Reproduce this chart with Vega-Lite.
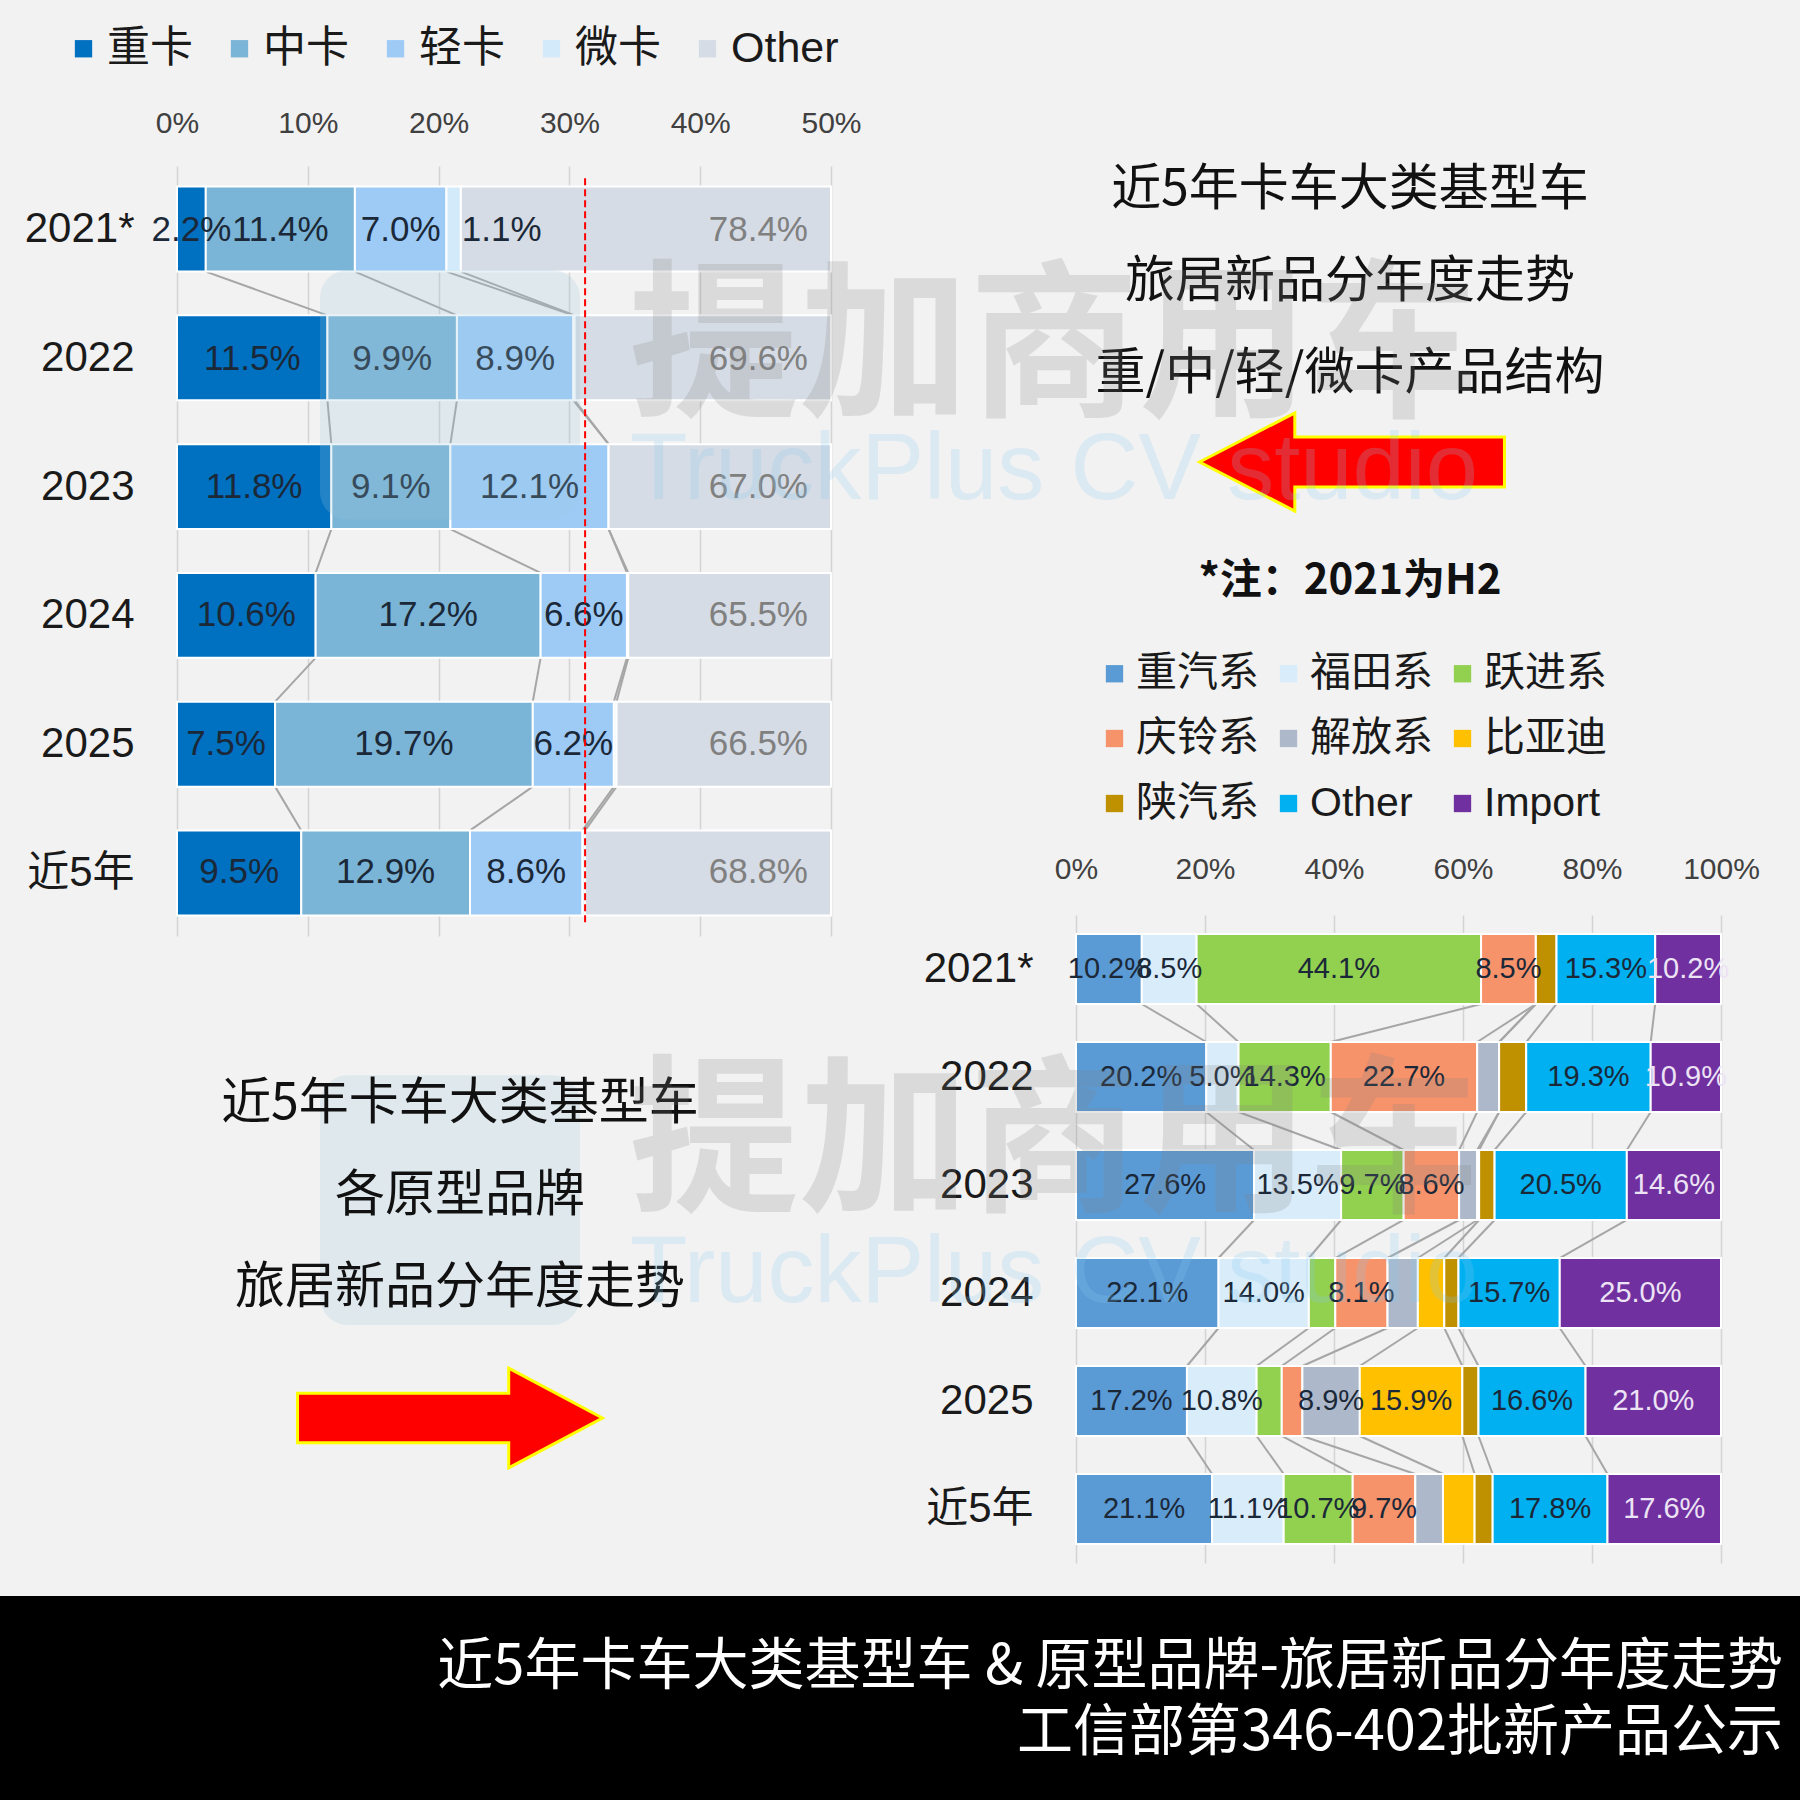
{
  "$schema": "https://vega.github.io/schema/vega-lite/v6.json",
  "width": 1800,
  "height": 1800,
  "autosize": {"type": "none"},
  "padding": 0,
  "background": "#f2f2f2",
  "config": {"view": {"stroke": null}},
  "datasets": {
    "truck": [
      {"year": "2021*", "type": "重卡", "value": 0.022},
      {"year": "2021*", "type": "中卡", "value": 0.114},
      {"year": "2021*", "type": "轻卡", "value": 0.070},
      {"year": "2021*", "type": "微卡", "value": 0.011},
      {"year": "2021*", "type": "Other", "value": 0.784},
      {"year": "2022", "type": "重卡", "value": 0.115},
      {"year": "2022", "type": "中卡", "value": 0.099},
      {"year": "2022", "type": "轻卡", "value": 0.089},
      {"year": "2022", "type": "微卡", "value": 0.001},
      {"year": "2022", "type": "Other", "value": 0.696},
      {"year": "2023", "type": "重卡", "value": 0.118},
      {"year": "2023", "type": "中卡", "value": 0.091},
      {"year": "2023", "type": "轻卡", "value": 0.121},
      {"year": "2023", "type": "微卡", "value": 0.000},
      {"year": "2023", "type": "Other", "value": 0.670},
      {"year": "2024", "type": "重卡", "value": 0.106},
      {"year": "2024", "type": "中卡", "value": 0.172},
      {"year": "2024", "type": "轻卡", "value": 0.066},
      {"year": "2024", "type": "微卡", "value": 0.001},
      {"year": "2024", "type": "Other", "value": 0.655},
      {"year": "2025", "type": "重卡", "value": 0.075},
      {"year": "2025", "type": "中卡", "value": 0.197},
      {"year": "2025", "type": "轻卡", "value": 0.062},
      {"year": "2025", "type": "微卡", "value": 0.002},
      {"year": "2025", "type": "Other", "value": 0.665},
      {"year": "近5年", "type": "重卡", "value": 0.095},
      {"year": "近5年", "type": "中卡", "value": 0.129},
      {"year": "近5年", "type": "轻卡", "value": 0.086},
      {"year": "近5年", "type": "微卡", "value": 0.002},
      {"year": "近5年", "type": "Other", "value": 0.688}
    ],
    "brand": [
      {"year": "2021*", "type": "重汽系", "value": 0.102},
      {"year": "2021*", "type": "福田系", "value": 0.085},
      {"year": "2021*", "type": "跃进系", "value": 0.441},
      {"year": "2021*", "type": "庆铃系", "value": 0.085},
      {"year": "2021*", "type": "解放系", "value": 0.0},
      {"year": "2021*", "type": "比亚迪", "value": 0.0},
      {"year": "2021*", "type": "陕汽系", "value": 0.032},
      {"year": "2021*", "type": "Other", "value": 0.153},
      {"year": "2021*", "type": "Import", "value": 0.102},
      {"year": "2022", "type": "重汽系", "value": 0.202},
      {"year": "2022", "type": "福田系", "value": 0.050},
      {"year": "2022", "type": "跃进系", "value": 0.143},
      {"year": "2022", "type": "庆铃系", "value": 0.227},
      {"year": "2022", "type": "解放系", "value": 0.034},
      {"year": "2022", "type": "比亚迪", "value": 0.0},
      {"year": "2022", "type": "陕汽系", "value": 0.042},
      {"year": "2022", "type": "Other", "value": 0.193},
      {"year": "2022", "type": "Import", "value": 0.109},
      {"year": "2023", "type": "重汽系", "value": 0.276},
      {"year": "2023", "type": "福田系", "value": 0.135},
      {"year": "2023", "type": "跃进系", "value": 0.097},
      {"year": "2023", "type": "庆铃系", "value": 0.086},
      {"year": "2023", "type": "解放系", "value": 0.028},
      {"year": "2023", "type": "比亚迪", "value": 0.003},
      {"year": "2023", "type": "陕汽系", "value": 0.024},
      {"year": "2023", "type": "Other", "value": 0.205},
      {"year": "2023", "type": "Import", "value": 0.146},
      {"year": "2024", "type": "重汽系", "value": 0.221},
      {"year": "2024", "type": "福田系", "value": 0.140},
      {"year": "2024", "type": "跃进系", "value": 0.041},
      {"year": "2024", "type": "庆铃系", "value": 0.081},
      {"year": "2024", "type": "解放系", "value": 0.047},
      {"year": "2024", "type": "比亚迪", "value": 0.041},
      {"year": "2024", "type": "陕汽系", "value": 0.022},
      {"year": "2024", "type": "Other", "value": 0.157},
      {"year": "2024", "type": "Import", "value": 0.250},
      {"year": "2025", "type": "重汽系", "value": 0.172},
      {"year": "2025", "type": "福田系", "value": 0.108},
      {"year": "2025", "type": "跃进系", "value": 0.039},
      {"year": "2025", "type": "庆铃系", "value": 0.032},
      {"year": "2025", "type": "解放系", "value": 0.089},
      {"year": "2025", "type": "比亚迪", "value": 0.159},
      {"year": "2025", "type": "陕汽系", "value": 0.025},
      {"year": "2025", "type": "Other", "value": 0.166},
      {"year": "2025", "type": "Import", "value": 0.210},
      {"year": "近5年", "type": "重汽系", "value": 0.211},
      {"year": "近5年", "type": "福田系", "value": 0.111},
      {"year": "近5年", "type": "跃进系", "value": 0.107},
      {"year": "近5年", "type": "庆铃系", "value": 0.097},
      {"year": "近5年", "type": "解放系", "value": 0.043},
      {"year": "近5年", "type": "比亚迪", "value": 0.049},
      {"year": "近5年", "type": "陕汽系", "value": 0.028},
      {"year": "近5年", "type": "Other", "value": 0.178},
      {"year": "近5年", "type": "Import", "value": 0.176}
    ],
    "notes": [
      {"kind": "title", "col": "R", "row": 1, "text": "近5年卡车大类基型车"},
      {"kind": "title", "col": "R", "row": 2, "text": "旅居新品分年度走势"},
      {"kind": "title", "col": "R", "row": 3, "text": "重/中/轻/微卡产品结构"},
      {"kind": "title", "col": "L", "row": 1, "text": "近5年卡车大类基型车"},
      {"kind": "title", "col": "L", "row": 2, "text": "各原型品牌"},
      {"kind": "title", "col": "L", "row": 3, "text": "旅居新品分年度走势"},
      {"kind": "note", "col": "R", "row": 1, "text": "*注：2021为H2"},
      {"kind": "footer", "col": "R", "row": 1, "text": "近5年卡车大类基型车 & 原型品牌-旅居新品分年度走势"},
      {"kind": "footer", "col": "R", "row": 2, "text": "工信部第346-402批新产品公示"},
      {"kind": "arrow", "col": "R", "row": 1, "text": "←"},
      {"kind": "arrow", "col": "L", "row": 1, "text": "→"},
      {"kind": "logo", "col": "C", "row": 1, "text": ""},
      {"kind": "logo", "col": "C", "row": 2, "text": ""},
      {"kind": "wm", "col": "C", "row": 1, "text": "提加商用车"},
      {"kind": "wm", "col": "C", "row": 2, "text": "提加商用车"},
      {"kind": "wm2", "col": "C", "row": 1, "text": "TruckPlus CV studio"},
      {"kind": "wm2", "col": "C", "row": 2, "text": "TruckPlus CV studio"}
    ]
  },
  "layer": [
    {
      "data": {"name": "notes"},
      "transform": [{"filter": "datum.kind == 'footer' && datum.row == 1"}],
      "mark": {"type": "rect", "fill": "#000000"},
      "encoding": {
        "y": {"field": "kind", "type": "nominal", "scale": {"type": "band", "domain": ["footer"], "range": [1596, 1800], "paddingInner": 0, "paddingOuter": 0}, "axis": null}
      }
    },
    {
      "data": {"name": "truck"},
      "transform": [
        {"stack": "value", "groupby": ["year"], "as": ["v0", "v1"]},
        {"window": [{"op": "lead", "field": "v1", "as": "nv1"}, {"op": "lead", "field": "year", "as": "nyear"}], "groupby": ["type"], "sort": [{"field": "year", "order": "ascending"}]},
        {"filter": "datum.nyear != null && datum.type != 'Other'"}
      ],
      "mark": {"type": "rule", "color": "#a6a6a6", "strokeWidth": 2},
      "encoding": {
        "x": {"field": "v1", "type": "quantitative", "scale": {"domain": [0, 0.5], "range": [177, 831], "clamp": true, "nice": false, "zero": false}, "axis": null},
        "x2": {"field": "nv1"},
        "y": {"field": "year", "type": "ordinal", "bandPosition": 1, "scale": {"domain": ["2021*", "2022", "2023", "2024", "2025", "近5年"], "range": [166, 936], "paddingInner": 0.34, "paddingOuter": 0.16}, "axis": null},
        "y2": {"field": "nyear", "bandPosition": 0}
      }
    },
    {
      "data": {"name": "truck"},
      "transform": [{"stack": "value", "groupby": ["year"], "as": ["v0", "v1"]}],
      "mark": {"type": "bar", "stroke": "#ffffff", "strokeWidth": 2},
      "encoding": {
        "x": {"field": "v0", "type": "quantitative", "scale": {"domain": [0, 0.5], "range": [177, 831], "clamp": true, "nice": false, "zero": false},
          "axis": {"orient": "top", "offset": -123, "format": "%", "values": [0, 0.1, 0.2, 0.3, 0.4, 0.5], "grid": true, "gridColor": "#d4d4d4", "gridWidth": 1.5, "domain": false, "ticks": false, "tickSize": 0, "labelPadding": 0, "labelBaseline": "middle", "labelFont": "Liberation Sans", "labelFontSize": 30, "labelColor": "#404040", "title": null, "labelFlush": false, "labelOverlap": false}},
        "x2": {"field": "v1"},
        "y": {"field": "year", "type": "ordinal", "scale": {"domain": ["2021*", "2022", "2023", "2024", "2025", "近5年"], "range": [166, 936], "paddingInner": 0.34, "paddingOuter": 0.16},
          "axis": {"orient": "left", "offset": -134, "domain": false, "ticks": false, "tickSize": 0, "labelPadding": 0, "labelFont": "Liberation Sans, Noto Sans CJK SC", "labelFontSize": 42, "labelColor": "#1a1a1a", "title": null, "grid": false}},
        "color": {"field": "type", "type": "nominal",
          "scale": {"domain": ["重卡", "中卡", "轻卡", "微卡", "Other"], "range": ["#0070c0", "#7ab4d6", "#9dcbf6", "#d3eafb", "#d6dce5"]},
          "legend": {"orient": "none", "legendX": 62, "legendY": 27, "direction": "horizontal", "title": null, "symbolType": "square", "symbolSize": 300, "symbolStrokeWidth": 0, "symbolOpacity": 1, "labelFont": "Liberation Sans, Noto Sans CJK SC", "labelFontSize": 43, "labelColor": "#1a1a1a", "labelOffset": 2, "columnPadding": 25, "padding": 0}}
      }
    },
    {
      "data": {"name": "truck"},
      "transform": [
        {"stack": "value", "groupby": ["year"], "as": ["v0", "v1"]},
        {"filter": "datum.value >= 0.01 && datum.type != 'Other' && datum.type != '微卡'"},
        {"calculate": "(datum.v0 + datum.v1) / 2", "as": "mid"}
      ],
      "mark": {"type": "text", "font": "Liberation Sans", "fontSize": 35, "color": "#1b2838", "baseline": "middle", "align": "center"},
      "encoding": {
        "x": {"field": "mid", "type": "quantitative", "scale": {"domain": [0, 0.5], "range": [177, 831], "clamp": true, "nice": false, "zero": false}, "axis": null},
        "y": {"field": "year", "type": "ordinal", "scale": {"domain": ["2021*", "2022", "2023", "2024", "2025", "近5年"], "range": [166, 936], "paddingInner": 0.34, "paddingOuter": 0.16}, "axis": null},
        "text": {"field": "value", "type": "quantitative", "format": ".1%"}
      }
    },
    {
      "data": {"name": "truck"},
      "transform": [
        {"stack": "value", "groupby": ["year"], "as": ["v0", "v1"]},
        {"filter": "datum.value >= 0.01 && datum.type == '微卡'"},
        {"calculate": "(datum.v0 + datum.v1) / 2", "as": "mid"}
      ],
      "mark": {"type": "text", "font": "Liberation Sans", "fontSize": 35, "color": "#1b2838", "baseline": "middle", "align": "center", "dx": 48},
      "encoding": {
        "x": {"field": "mid", "type": "quantitative", "scale": {"domain": [0, 0.5], "range": [177, 831], "clamp": true, "nice": false, "zero": false}, "axis": null},
        "y": {"field": "year", "type": "ordinal", "scale": {"domain": ["2021*", "2022", "2023", "2024", "2025", "近5年"], "range": [166, 936], "paddingInner": 0.34, "paddingOuter": 0.16}, "axis": null},
        "text": {"field": "value", "type": "quantitative", "format": ".1%"}
      }
    },
    {
      "data": {"name": "truck"},
      "transform": [
        {"stack": "value", "groupby": ["year"], "as": ["v0", "v1"]},
        {"filter": "datum.type == 'Other'"}
      ],
      "mark": {"type": "text", "font": "Liberation Sans", "fontSize": 35, "color": "#808080", "baseline": "middle", "align": "right", "dx": -23},
      "encoding": {
        "x": {"field": "v1", "type": "quantitative", "scale": {"domain": [0, 0.5], "range": [177, 831], "clamp": true, "nice": false, "zero": false}, "axis": null},
        "y": {"field": "year", "type": "ordinal", "scale": {"domain": ["2021*", "2022", "2023", "2024", "2025", "近5年"], "range": [166, 936], "paddingInner": 0.34, "paddingOuter": 0.16}, "axis": null},
        "text": {"field": "value", "type": "quantitative", "format": ".1%"}
      }
    },
    {
      "data": {"name": "truck"},
      "transform": [
        {"stack": "value", "groupby": ["year"], "as": ["v0", "v1"]},
        {"filter": "datum.type == 'Other' && datum.year == '近5年'"}
      ],
      "mark": {"type": "rule", "color": "#ff0000", "strokeWidth": 2, "strokeDash": [7, 4]},
      "encoding": {
        "x": {"field": "v0", "type": "quantitative", "scale": {"domain": [0, 0.5], "range": [177, 831], "clamp": true, "nice": false, "zero": false}, "axis": null},
        "y": {"field": "year", "type": "ordinal", "bandPosition": 1.08, "scale": {"domain": ["2021*", "2022", "2023", "2024", "2025", "近5年"], "range": [166, 936], "paddingInner": 0.34, "paddingOuter": 0.16}, "axis": null},
        "y2": {"datum": "2021*", "bandPosition": -0.12}
      }
    },
    {
      "data": {"name": "brand"},
      "transform": [
        {"stack": "value", "groupby": ["year"], "as": ["v0", "v1"]},
        {"window": [{"op": "lead", "field": "v1", "as": "nv1"}, {"op": "lead", "field": "year", "as": "nyear"}], "groupby": ["type"], "sort": [{"field": "year", "order": "ascending"}]},
        {"filter": "datum.nyear != null && datum.type != 'Import'"}
      ],
      "mark": {"type": "rule", "color": "#a6a6a6", "strokeWidth": 2},
      "encoding": {
        "x": {"field": "v1", "type": "quantitative", "scale": {"domain": [0, 1], "range": [1076, 1721], "nice": false, "zero": false}, "axis": null},
        "x2": {"field": "nv1"},
        "y": {"field": "year", "type": "ordinal", "bandPosition": 1, "scale": {"domain": ["2021*", "2022", "2023", "2024", "2025", "近5年"], "range": [915, 1563], "paddingInner": 0.352, "paddingOuter": 0.176}, "axis": null},
        "y2": {"field": "nyear", "bandPosition": 0}
      }
    },
    {
      "data": {"name": "brand"},
      "transform": [{"stack": "value", "groupby": ["year"], "as": ["v0", "v1"]}],
      "mark": {"type": "bar", "stroke": "#ffffff", "strokeWidth": 2},
      "encoding": {
        "x": {"field": "v0", "type": "quantitative", "scale": {"domain": [0, 1], "range": [1076, 1721], "nice": false, "zero": false},
          "axis": {"orient": "top", "offset": -869, "format": "%", "values": [0, 0.2, 0.4, 0.6, 0.8, 1], "grid": true, "gridColor": "#d4d4d4", "gridWidth": 1.5, "domain": false, "ticks": false, "tickSize": 0, "labelPadding": 0, "labelBaseline": "middle", "labelFont": "Liberation Sans", "labelFontSize": 30, "labelColor": "#404040", "title": null, "labelFlush": false, "labelOverlap": false}},
        "x2": {"field": "v1"},
        "y": {"field": "year", "type": "ordinal", "scale": {"domain": ["2021*", "2022", "2023", "2024", "2025", "近5年"], "range": [915, 1563], "paddingInner": 0.352, "paddingOuter": 0.176},
          "axis": {"orient": "left", "offset": -1033, "domain": false, "ticks": false, "tickSize": 0, "labelPadding": 0, "labelFont": "Liberation Sans, Noto Sans CJK SC", "labelFontSize": 42, "labelColor": "#1a1a1a", "title": null, "grid": false}},
        "color": {"field": "type", "type": "nominal",
          "scale": {"domain": ["重汽系", "福田系", "跃进系", "庆铃系", "解放系", "比亚迪", "陕汽系", "Other", "Import"], "range": ["#5b9bd5", "#d9ecfa", "#92d050", "#f7936b", "#adb9ca", "#ffc000", "#bf9000", "#00b0f0", "#7030a0"]},
          "legend": {"orient": "none", "legendX": 1094, "legendY": 653, "direction": "horizontal", "columns": 3, "title": null, "symbolType": "square", "symbolSize": 300, "symbolStrokeWidth": 0, "symbolOpacity": 1, "labelFont": "Liberation Sans, Noto Sans CJK SC", "labelFontSize": 41, "labelColor": "#1a1a1a", "labelOffset": 1, "columnPadding": 9, "rowPadding": 23, "padding": 0}}
      }
    },
    {
      "data": {"name": "brand"},
      "transform": [
        {"stack": "value", "groupby": ["year"], "as": ["v0", "v1"]},
        {"filter": "datum.value >= 0.05"},
        {"calculate": "(datum.v0 + datum.v1) / 2", "as": "mid"}
      ],
      "mark": {"type": "text", "font": "Liberation Sans", "fontSize": 29, "baseline": "middle", "align": "center"},
      "encoding": {
        "x": {"field": "mid", "type": "quantitative", "scale": {"domain": [0, 1], "range": [1076, 1721], "nice": false, "zero": false}, "axis": null},
        "y": {"field": "year", "type": "ordinal", "scale": {"domain": ["2021*", "2022", "2023", "2024", "2025", "近5年"], "range": [915, 1563], "paddingInner": 0.352, "paddingOuter": 0.176}, "axis": null},
        "text": {"field": "value", "type": "quantitative", "format": ".1%"},
        "color": {"condition": {"test": "datum.type == 'Import'", "value": "#ece3f5"}, "value": "#1b2838"}
      }
    },
    {
      "data": {"name": "notes"},
      "transform": [{"filter": "datum.kind == 'logo'"}],
      "mark": {"type": "rect", "fill": "#9acada", "opacity": 0.22, "cornerRadius": 28},
      "encoding": {
        "x": {"field": "col", "type": "nominal", "scale": {"type": "band", "domain": ["C"], "range": [320, 580], "paddingInner": 0, "paddingOuter": 0}, "axis": null},
        "y": {"field": "row", "type": "ordinal", "scale": {"type": "band", "domain": [1, 2], "range": [270, 1325], "paddingInner": 0.69, "paddingOuter": 0}, "axis": null}
      }
    },
    {
      "data": {"name": "notes"},
      "transform": [{"filter": "datum.kind == 'title' && datum.col == 'R'"}],
      "mark": {"type": "text", "font": "Noto Sans CJK SC", "fontSize": 50, "color": "#111111", "baseline": "middle", "align": "center"},
      "encoding": {
        "x": {"field": "col", "type": "nominal", "scale": {"type": "point", "domain": ["L", "R"], "range": [460, 1350], "padding": 0}, "axis": null},
        "y": {"field": "row", "type": "ordinal", "scale": {"type": "point", "domain": [1, 2, 3], "range": [190, 374], "padding": 0}, "axis": null},
        "text": {"field": "text"}
      }
    },
    {
      "data": {"name": "notes"},
      "transform": [{"filter": "datum.kind == 'title' && datum.col == 'L'"}],
      "mark": {"type": "text", "font": "Noto Sans CJK SC", "fontSize": 50, "color": "#111111", "baseline": "middle", "align": "center"},
      "encoding": {
        "x": {"field": "col", "type": "nominal", "scale": {"type": "point", "domain": ["L", "R"], "range": [460, 1350], "padding": 0}, "axis": null},
        "y": {"field": "row", "type": "ordinal", "scale": {"type": "point", "domain": [1, 2, 3], "range": [1104, 1288], "padding": 0}, "axis": null},
        "text": {"field": "text"}
      }
    },
    {
      "data": {"name": "notes"},
      "transform": [{"filter": "datum.kind == 'note'"}],
      "mark": {"type": "text", "font": "Noto Sans CJK SC", "fontSize": 42, "fontWeight": "bold", "color": "#111111", "baseline": "middle", "align": "center"},
      "encoding": {
        "x": {"field": "col", "type": "nominal", "scale": {"type": "point", "domain": ["L", "R"], "range": [460, 1350], "padding": 0}, "axis": null},
        "y": {"field": "row", "type": "ordinal", "scale": {"type": "point", "domain": [0, 1], "range": [0, 581], "padding": 0}, "axis": null},
        "text": {"field": "text"}
      }
    },
    {
      "data": {"name": "notes"},
      "transform": [{"filter": "datum.kind == 'footer'"}],
      "mark": {"type": "text", "font": "Noto Sans CJK SC", "fontSize": 56, "color": "#ffffff", "baseline": "middle", "align": "right"},
      "encoding": {
        "x": {"field": "col", "type": "nominal", "scale": {"type": "point", "domain": ["L", "R"], "range": [0, 1783], "padding": 0}, "axis": null},
        "y": {"field": "row", "type": "ordinal", "scale": {"type": "point", "domain": [1, 2], "range": [1667, 1733], "padding": 0}, "axis": null},
        "text": {"field": "text"}
      }
    },
    {
      "data": {"name": "notes"},
      "transform": [{"filter": "datum.kind == 'arrow'"}],
      "mark": {"type": "point", "filled": true, "fill": "#ff0000", "stroke": "#ffff00", "strokeWidth": 3, "opacity": 1, "size": 93000},
      "encoding": {
        "x": {"field": "col", "type": "nominal", "scale": {"type": "point", "domain": ["L", "R"], "range": [450, 1352], "padding": 0}, "axis": null},
        "y": {"field": "col", "type": "nominal", "scale": {"type": "point", "domain": ["L", "R"], "range": [1418, 462], "padding": 0}, "axis": null},
        "shape": {"field": "col", "type": "nominal", "scale": {"domain": ["L", "R"], "range": ["M 1 0 L 0.385 -0.327 L 0.385 -0.162 L -1 -0.162 L -1 0.162 L 0.385 0.162 L 0.385 0.327 Z", "M -1 0 L -0.375 -0.322 L -0.375 -0.164 L 1 -0.164 L 1 0.164 L -0.375 0.164 L -0.375 0.322 Z"]}, "legend": null}
      }
    },
    {
      "data": {"name": "notes"},
      "transform": [{"filter": "datum.kind == 'wm'"}],
      "mark": {"type": "text", "font": "Noto Sans CJK SC", "fontSize": 170, "fontWeight": "bold", "color": "#808080", "opacity": 0.2, "baseline": "middle", "align": "center"},
      "encoding": {
        "x": {"field": "col", "type": "nominal", "scale": {"type": "point", "domain": ["B", "C"], "range": [0, 1054], "padding": 0}, "axis": null},
        "y": {"field": "row", "type": "ordinal", "scale": {"type": "point", "domain": [1, 2], "range": [353, 1148], "padding": 0}, "axis": null},
        "text": {"field": "text"}
      }
    },
    {
      "data": {"name": "notes"},
      "transform": [{"filter": "datum.kind == 'wm2'"}],
      "mark": {"type": "text", "font": "Liberation Sans", "fontSize": 94, "color": "#87caf2", "opacity": 0.22, "baseline": "middle", "align": "center"},
      "encoding": {
        "x": {"field": "col", "type": "nominal", "scale": {"type": "point", "domain": ["B", "C"], "range": [0, 1054], "padding": 0}, "axis": null},
        "y": {"field": "row", "type": "ordinal", "scale": {"type": "point", "domain": [1, 2], "range": [471, 1274], "padding": 0}, "axis": null},
        "text": {"field": "text"}
      }
    }
  ],
  "resolve": {"scale": {"x": "independent", "y": "independent", "color": "independent", "shape": "independent"}}
}
